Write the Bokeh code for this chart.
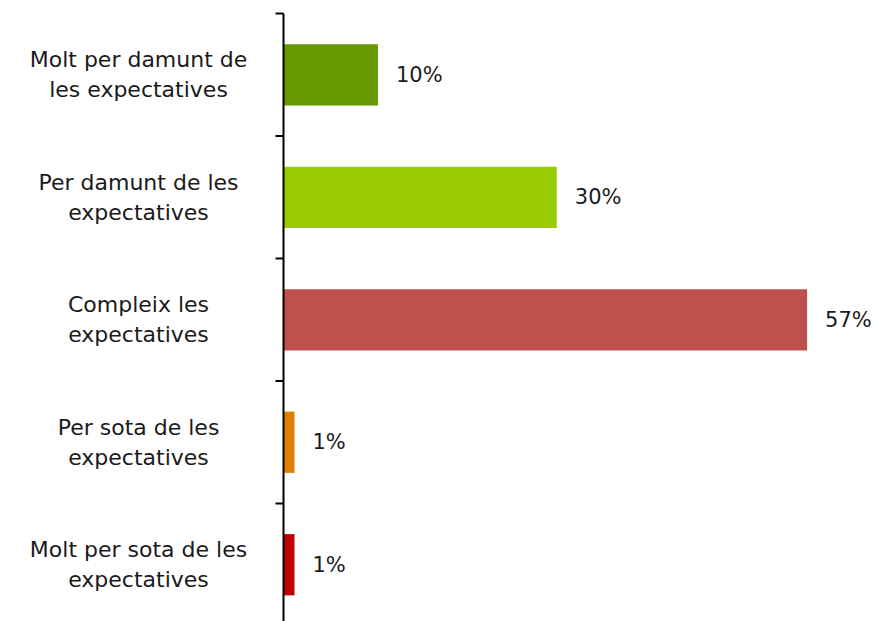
import math
from bokeh.plotting import figure
from bokeh.models import Range1d, ColumnDataSource
from bokeh.core.properties import value
from bokeh.embed import file_html
from bokeh.resources import INLINE

categories = [
    "Molt per damunt de\nles expectatives",
    "Per damunt de les\nexpectatives",
    "Compleix les\nexpectatives",
    "Per sota de les\nexpectatives",
    "Molt per sota de les\nexpectatives",
]
values = [10.3, 29.8, 57.1, 1.2, 1.2]
value_labels = ["10%", "30%", "57%", "1%", "1%"]
colors = ["#669900", "#99CC00", "#C0504D", "#E47E00", "#C00000"]

FONT = "DejaVu Sans"
W, H = 877, 621
AXIS_PX = 283          # pixel position of the value axis origin
PX_PER_UNIT = 9.17     # pixels per percentage point
ROW_PX = 122.5         # pixels per category row
TOP_PX = 13

n = len(categories)
ypos = [n - 1 - i for i in range(n)]
bounds = [k - 0.5 for k in range(n + 1)]

src = ColumnDataSource(dict(y=ypos, v=values, lab=value_labels, c=colors,
                            cat=categories, zero=[0] * n))

x_start = -AXIS_PX / PX_PER_UNIT
x_end = (W - AXIS_PX) / PX_PER_UNIT
y_end = n - 0.5 + TOP_PX / ROW_PX
y_start = y_end - H / ROW_PX

p = figure(width=W, height=H, output_backend="svg", toolbar_location=None,
           x_range=Range1d(x_start, x_end), y_range=Range1d(y_start, y_end),
           min_border=0, x_axis_location=None, y_axis_location=None)
p.outline_line_color = None
p.xgrid.visible = False
p.ygrid.visible = False
p.background_fill_color = "white"

p.hbar(y="y", right="v", left=0, height=0.5, fill_color="c", line_color=None, source=src)
p.text(x="v", y="y", text="lab", x_offset=18, text_align="left", text_baseline="middle",
       text_font=value(FONT), text_font_size="21px", text_color="#1a1a1a", source=src)
p.text(x="zero", y="y", text="cat", x_offset=-145, text_align="center", text_baseline="middle",
       text_font=value(FONT), text_font_size="22px", text_color="#1a1a1a",
       text_line_height=1.2, source=src)

# category axis line and boundary ticks
p.segment(x0=0, x1=0, y0=bounds[0], y1=bounds[-1],
          line_color="black", line_width=2)
p.ray(x=[0] * len(bounds), y=bounds, length=8, length_units="screen",
      angle=math.pi, line_color="black", line_width=2)

open("out.html", "w").write(file_html(p, INLINE))
